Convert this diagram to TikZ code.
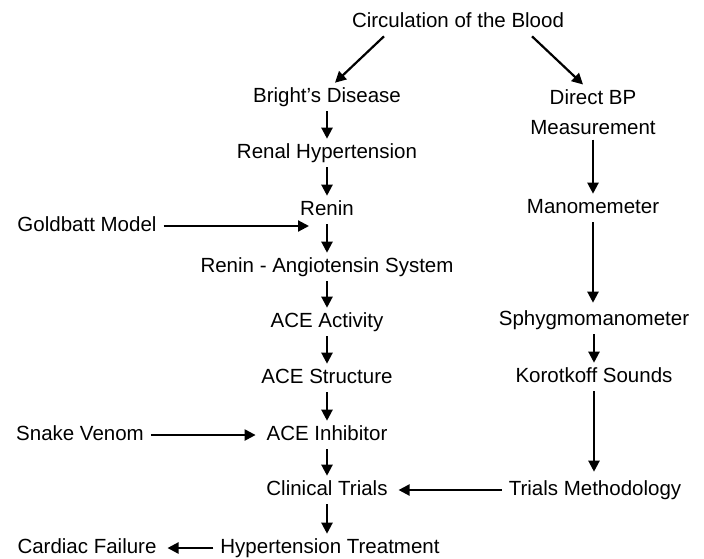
\documentclass[tikz,border=0pt]{standalone}
\usepackage{fontspec}
\setmainfont{Liberation Sans}
\usetikzlibrary{arrows.meta}

\begin{document}
\begin{tikzpicture}[x=0.5pt, y=-0.5pt,
    lbl/.style={inner sep=0pt, outer sep=2.5pt, font=\fontsize{10.25}{15}\selectfont, text height=0.72em, text depth=0.21em},
    arr/.style={line width=1.1pt, -{Triangle[length=5.5pt, width=5.5pt]}},
    harr/.style={arr, shorten >=3pt, shorten <=1pt}]
    \useasboundingbox (0,0) rectangle (704,558);

    % TOP
    \node[lbl] (circ) at (458,22) {Circulation of the Blood};

    % LEFT COLUMN
    \node[lbl] (bright) at (327,97) {Bright’s Disease};
    \node[lbl] (renal) at (327,153) {Renal Hypertension};
    \node[lbl] (renin) at (327,210) {Renin};
    \node[lbl] (ras) at (327,267) {Renin - Angiotensin System};
    \node[lbl] (aceact) at (327,322) {ACE Activity};
    \node[lbl] (acestr) at (327,378) {ACE Structure};
    \node[lbl] (aceinh) at (327,435) {ACE Inhibitor};
    \node[lbl] (clin) at (327,490) {Clinical Trials};
    \node[lbl] (hyper) at (330,548) {Hypertension Treatment};
    \draw[arr] ([xshift=18.5pt]circ.south west) -- ([xshift=4pt]bright.north);
    \draw[arr] (bright) -- (renal);
    \draw[arr] (renal) -- (renin);
    \draw[arr] (renin) -- (ras);
    \draw[arr] (ras) -- (aceact);
    \draw[arr] (aceact) -- (acestr);
    \draw[arr] (acestr) -- (aceinh);
    \draw[arr] (aceinh) -- (clin);
    \draw[arr] (clin) -- (clin |- hyper.north);

    % SIDE INPUTS
    \node[lbl] (gold) at (87,226) {Goldbatt Model};
    \coordinate (goldtip) at (309,226);
    \draw[arr, shorten <=1pt] (gold) -- (goldtip);
    \node[lbl] (snake) at (80,435) {Snake Venom};
    \draw[harr] (snake) -- (aceinh);
    \node[lbl] (cardiac) at (87,548) {Cardiac Failure};
    \draw[harr] (hyper) -- (cardiac);

    % RIGHT COLUMN
    \node[inner sep=0pt, outer sep=2.5pt, font=\fontsize{10.25}{15}\selectfont, align=center] (direct) at (593,112) {Direct BP\\Measurement};
    \node[lbl] (mano) at (593,208) {Manomemeter};
    \node[lbl] (sphyg) at (594,320) {Sphygmomanometer};
    \node[lbl] (korot) at (594,377) {Korotkoff Sounds};
    \node[lbl] (trialsm) at (595,490) {Trials Methodology};
    \draw[arr] ([xshift=-18.5pt]circ.south east) -- ([xshift=-5pt]direct.north);
    \draw[arr] (direct) -- (direct |- mano.north);
    \draw[arr, shorten >=1.5pt] (mano) -- (mano |- sphyg.north);
    \draw[arr] (sphyg) -- (sphyg |- korot.north);
    \draw[arr, shorten >=2pt] (korot) -- (korot |- trialsm.north);
    \draw[harr] (trialsm) -- (clin);
\end{tikzpicture}
\end{document}
